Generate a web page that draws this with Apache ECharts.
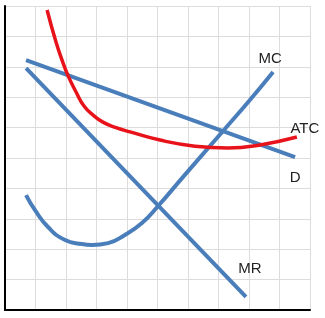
<!DOCTYPE html>
<html>
<head>
<meta charset="utf-8">
<script src="https://cdn.jsdelivr.net/npm/echarts@6/dist/echarts.min.js"></script>
<style>
html,body{margin:0;padding:0;background:#fff;}
#chart{width:325px;height:318px;}
</style>
</head>
<body>
<div id="chart"></div>
<script>
// Demand (D) line
const dX = [0.69, 9.51];
const dY = [8.22, 5.03];
// Marginal revenue (MR) line
const mrX = [0.69, 7.9];
const mrY = [7.96, 0.43];
// Marginal cost (MC) curve
const mcX = [0.69, 0.98, 1.41, 1.97, 2.52, 2.85, 3.38, 3.93, 4.49, 5.02, 5.84, 7.15, 8.03, 8.79];
const mcY = [3.78, 3.29, 2.73, 2.30, 2.17, 2.14, 2.20, 2.47, 2.86, 3.42, 4.38, 5.89, 6.91, 7.83];
// Average total cost (ATC) curve
const atcX = [1.38, 1.67, 1.87, 2.07, 2.33, 2.59, 2.89, 3.21, 3.64, 4.10, 5.08, 6.23, 7.31, 8.36, 9.57];
const atcY = [9.87, 8.82, 8.22, 7.70, 7.17, 6.71, 6.41, 6.18, 6.00, 5.86, 5.59, 5.39, 5.33, 5.43, 5.69];
// Curve names
const names = ['D', 'MR', 'MC', 'ATC'];
// Axis ticks
const axisMin = 0, axisMax = 10, axisStep = 1;

const zip = (xs, ys) => xs.map((x, i) => [x, ys[i]]);
const blue = '#4a7ebb', red = '#e8121a';
const labelStyle = {fontFamily: 'Liberation Sans, Arial, sans-serif', fontSize: 15, color: '#222'};

function endMark(points, text, offset) {
  return {
    symbol: 'circle', symbolSize: 0, silent: true,
    label: Object.assign({show: true, position: 'inside', formatter: text, offset: offset}, labelStyle),
    data: [{coord: points[points.length - 1]}]
  };
}

const chart = echarts.init(document.getElementById('chart'), null, {renderer: 'canvas'});
const axisCommon = {
  type: 'value', min: axisMin, max: axisMax, interval: axisStep,
  axisLabel: {show: false}, axisTick: {show: false},
  axisLine: {show: true, onZero: false, lineStyle: {color: '#000', width: 2}},
  splitLine: {show: true, lineStyle: {color: '#dcdcdc', width: 1}}
};
const dPts = zip(dX, dY), mrPts = zip(mrX, mrY), mcPts = zip(mcX, mcY), atcPts = zip(atcX, atcY);
chart.setOption({
  animation: false,
  grid: {left: 5, top: 6, right: 15, bottom: 8, containLabel: false},
  xAxis: axisCommon,
  yAxis: axisCommon,
  series: [
    {name: names[0], type: 'line', data: dPts, showSymbol: false, symbol: 'none',
     lineStyle: {color: blue, width: 4}, z: 2, markPoint: endMark(dPts, names[0], [0, 21])},
    {name: names[1], type: 'line', data: mrPts, showSymbol: false, symbol: 'none',
     lineStyle: {color: blue, width: 4}, z: 2, markPoint: endMark(mrPts, names[1], [4, -28])},
    {name: names[2], type: 'line', data: mcPts, smooth: 0.5, showSymbol: false, symbol: 'none',
     lineStyle: {color: blue, width: 4}, z: 2, markPoint: endMark(mcPts, names[2], [-3, -13])},
    {name: names[3], type: 'line', data: atcPts, smooth: 0.5, showSymbol: false, symbol: 'none',
     lineStyle: {color: red, width: 3.5}, z: 3, markPoint: endMark(atcPts, names[3], [8, -8])}
  ]
});
</script>
</body>
</html>
